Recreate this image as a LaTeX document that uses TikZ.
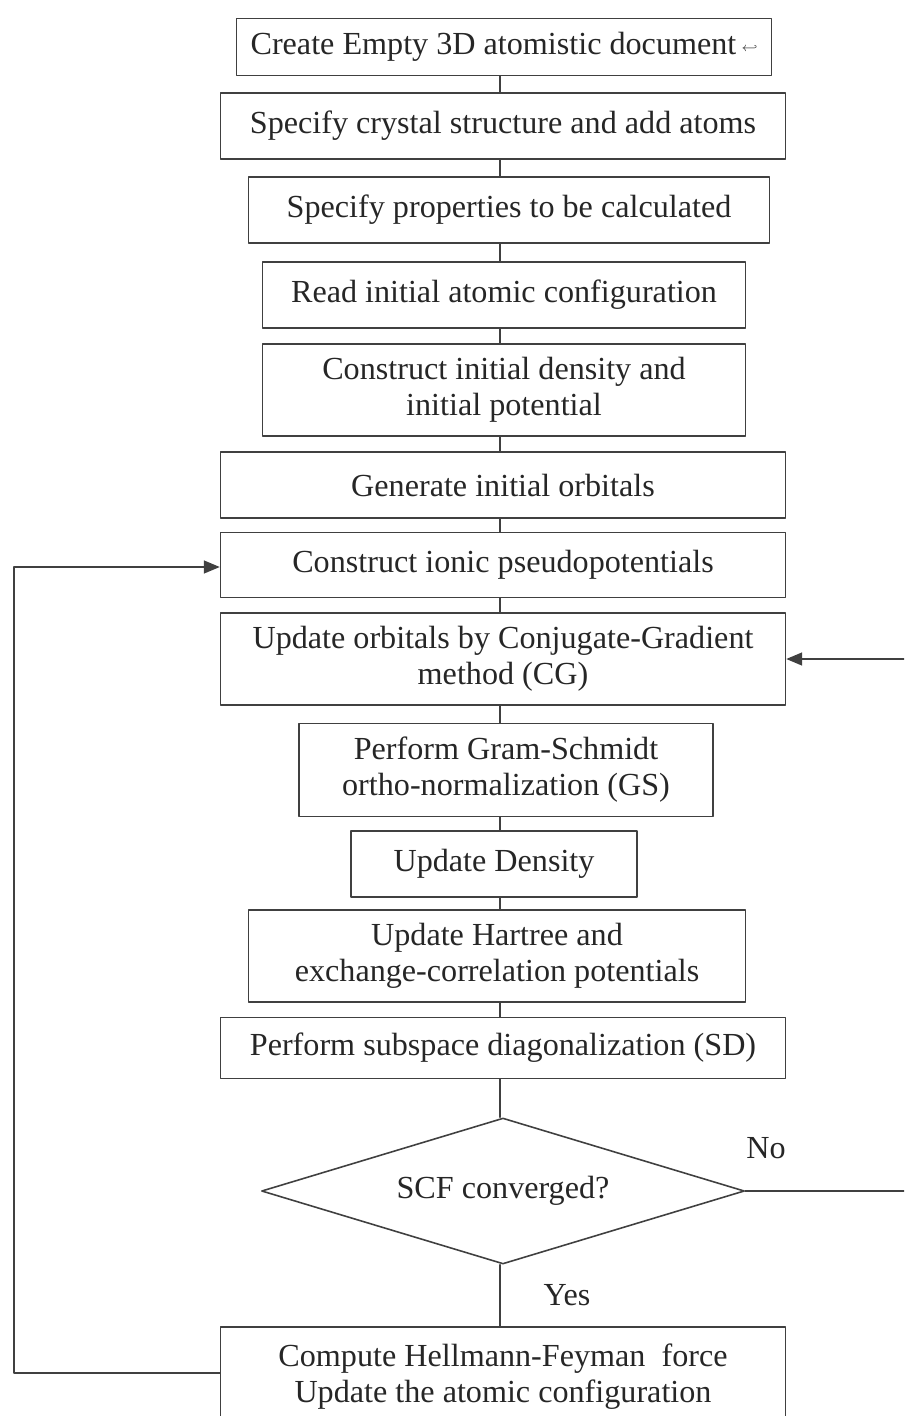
\documentclass[tikz,border=0pt]{standalone}
\usepackage{fontspec}
\setmainfont{Liberation Serif}
\usetikzlibrary{shapes.geometric,arrows.meta}

\begin{document}
\begin{tikzpicture}[x=0.02cm, y=-0.02cm, line cap=round, line join=round,
    stepbox/.style={draw=black!75, line width=0.9pt, inner sep=0pt, align=center,
        text=black!85, font=\fontsize{18.3}{20.5}\selectfont},
    testbox/.style={stepbox, diamond, aspect=3.3},
    flow/.style={draw=black!75, line width=0.9pt},
    arrow/.style={flow, -{Triangle[length=0.32cm, width=0.26cm]}},
    label/.style={text=black!85, font=\fontsize{18.3}{20.5}\selectfont}]
    \useasboundingbox (0, 0) rectangle (904, 1416);
    \clip (0, 0) rectangle (904, 1416);

    % setup steps
    \node[stepbox, minimum width=10.7cm, minimum height=1.14cm] (create) at (504, 47) {Create Empty 3D atomistic document\,\raisebox{0.2ex}{\scriptsize$\hookleftarrow$}};
    \node[stepbox, minimum width=11.3cm, minimum height=1.32cm] (crystal) at (503, 126) {Specify crystal structure and add atoms};
    \node[stepbox, minimum width=10.42cm, minimum height=1.32cm] (props) at (509, 210) {Specify properties to be calculated};
    \node[stepbox, minimum width=9.66cm, minimum height=1.32cm] (readcfg) at (504, 295) {Read initial atomic configuration};
    \node[stepbox, minimum width=9.66cm, minimum height=1.84cm] (density) at (504, 390) {Construct initial density and\\initial potential};
    \node[stepbox, minimum width=11.3cm, minimum height=1.32cm] (orbitals) at (503, 485) {Generate initial orbitals};

    % outer loop
    \node[stepbox, minimum width=11.3cm, minimum height=1.30cm] (ionic) at (503, 565) {Construct ionic pseudopotentials};

    % SCF loop
    \node[stepbox, minimum width=11.3cm, minimum height=1.84cm] (cg) at (503, 659) {Update orbitals by Conjugate-Gradient\\method (CG)};
    \node[stepbox, minimum width=8.28cm, minimum height=1.86cm] (gs) at (506, 770) {Perform Gram-Schmidt\\ortho-normalization (GS)};
    \node[stepbox, minimum width=5.72cm, minimum height=1.32cm] (newdens) at (494, 864) {Update Density};
    \node[stepbox, minimum width=9.94cm, minimum height=1.84cm] (hartree) at (497, 956) {Update Hartree and\\exchange-correlation potentials};
    \node[stepbox, minimum width=11.3cm, minimum height=1.22cm] (sd) at (503, 1048) {Perform subspace diagonalization (SD)};
    \node[testbox, minimum width=9.66cm, minimum height=2.92cm] (scf) at (503, 1191) {SCF converged?};
    \node[stepbox, minimum width=11.3cm, minimum height=2.0cm] (force) at (503, 1377) {Compute Hellmann-Feyman\ \ force\\Update the atomic configuration};

    \node[label] (no) at (766, 1148) {No};
    \node[label] (yes) at (567, 1295) {Yes};

    % spine
    \coordinate (spine) at (500, 0);
    \foreach \a/\b in {create/crystal, crystal/props, props/readcfg, readcfg/density,
        density/orbitals, orbitals/ionic, ionic/cg, cg/gs, gs/newdens, newdens/hartree,
        hartree/sd, sd/scf, scf/force}
        \draw[flow] (\a.south -| spine) -- (\b.north -| spine);

    % back to ionic
    \coordinate (west) at (14, 0);
    \draw[arrow] (force.west |- 0, 1373) -- (west |- 0, 1373) -- (west |- 0, 567) -- (ionic.west |- 0, 567);

    % back to cg
    \coordinate (east) at (910, 0);
    \draw[arrow] (scf.east) -- (scf.east -| east) -- (east |- cg.east) -- (cg.east);
\end{tikzpicture}
\end{document}
